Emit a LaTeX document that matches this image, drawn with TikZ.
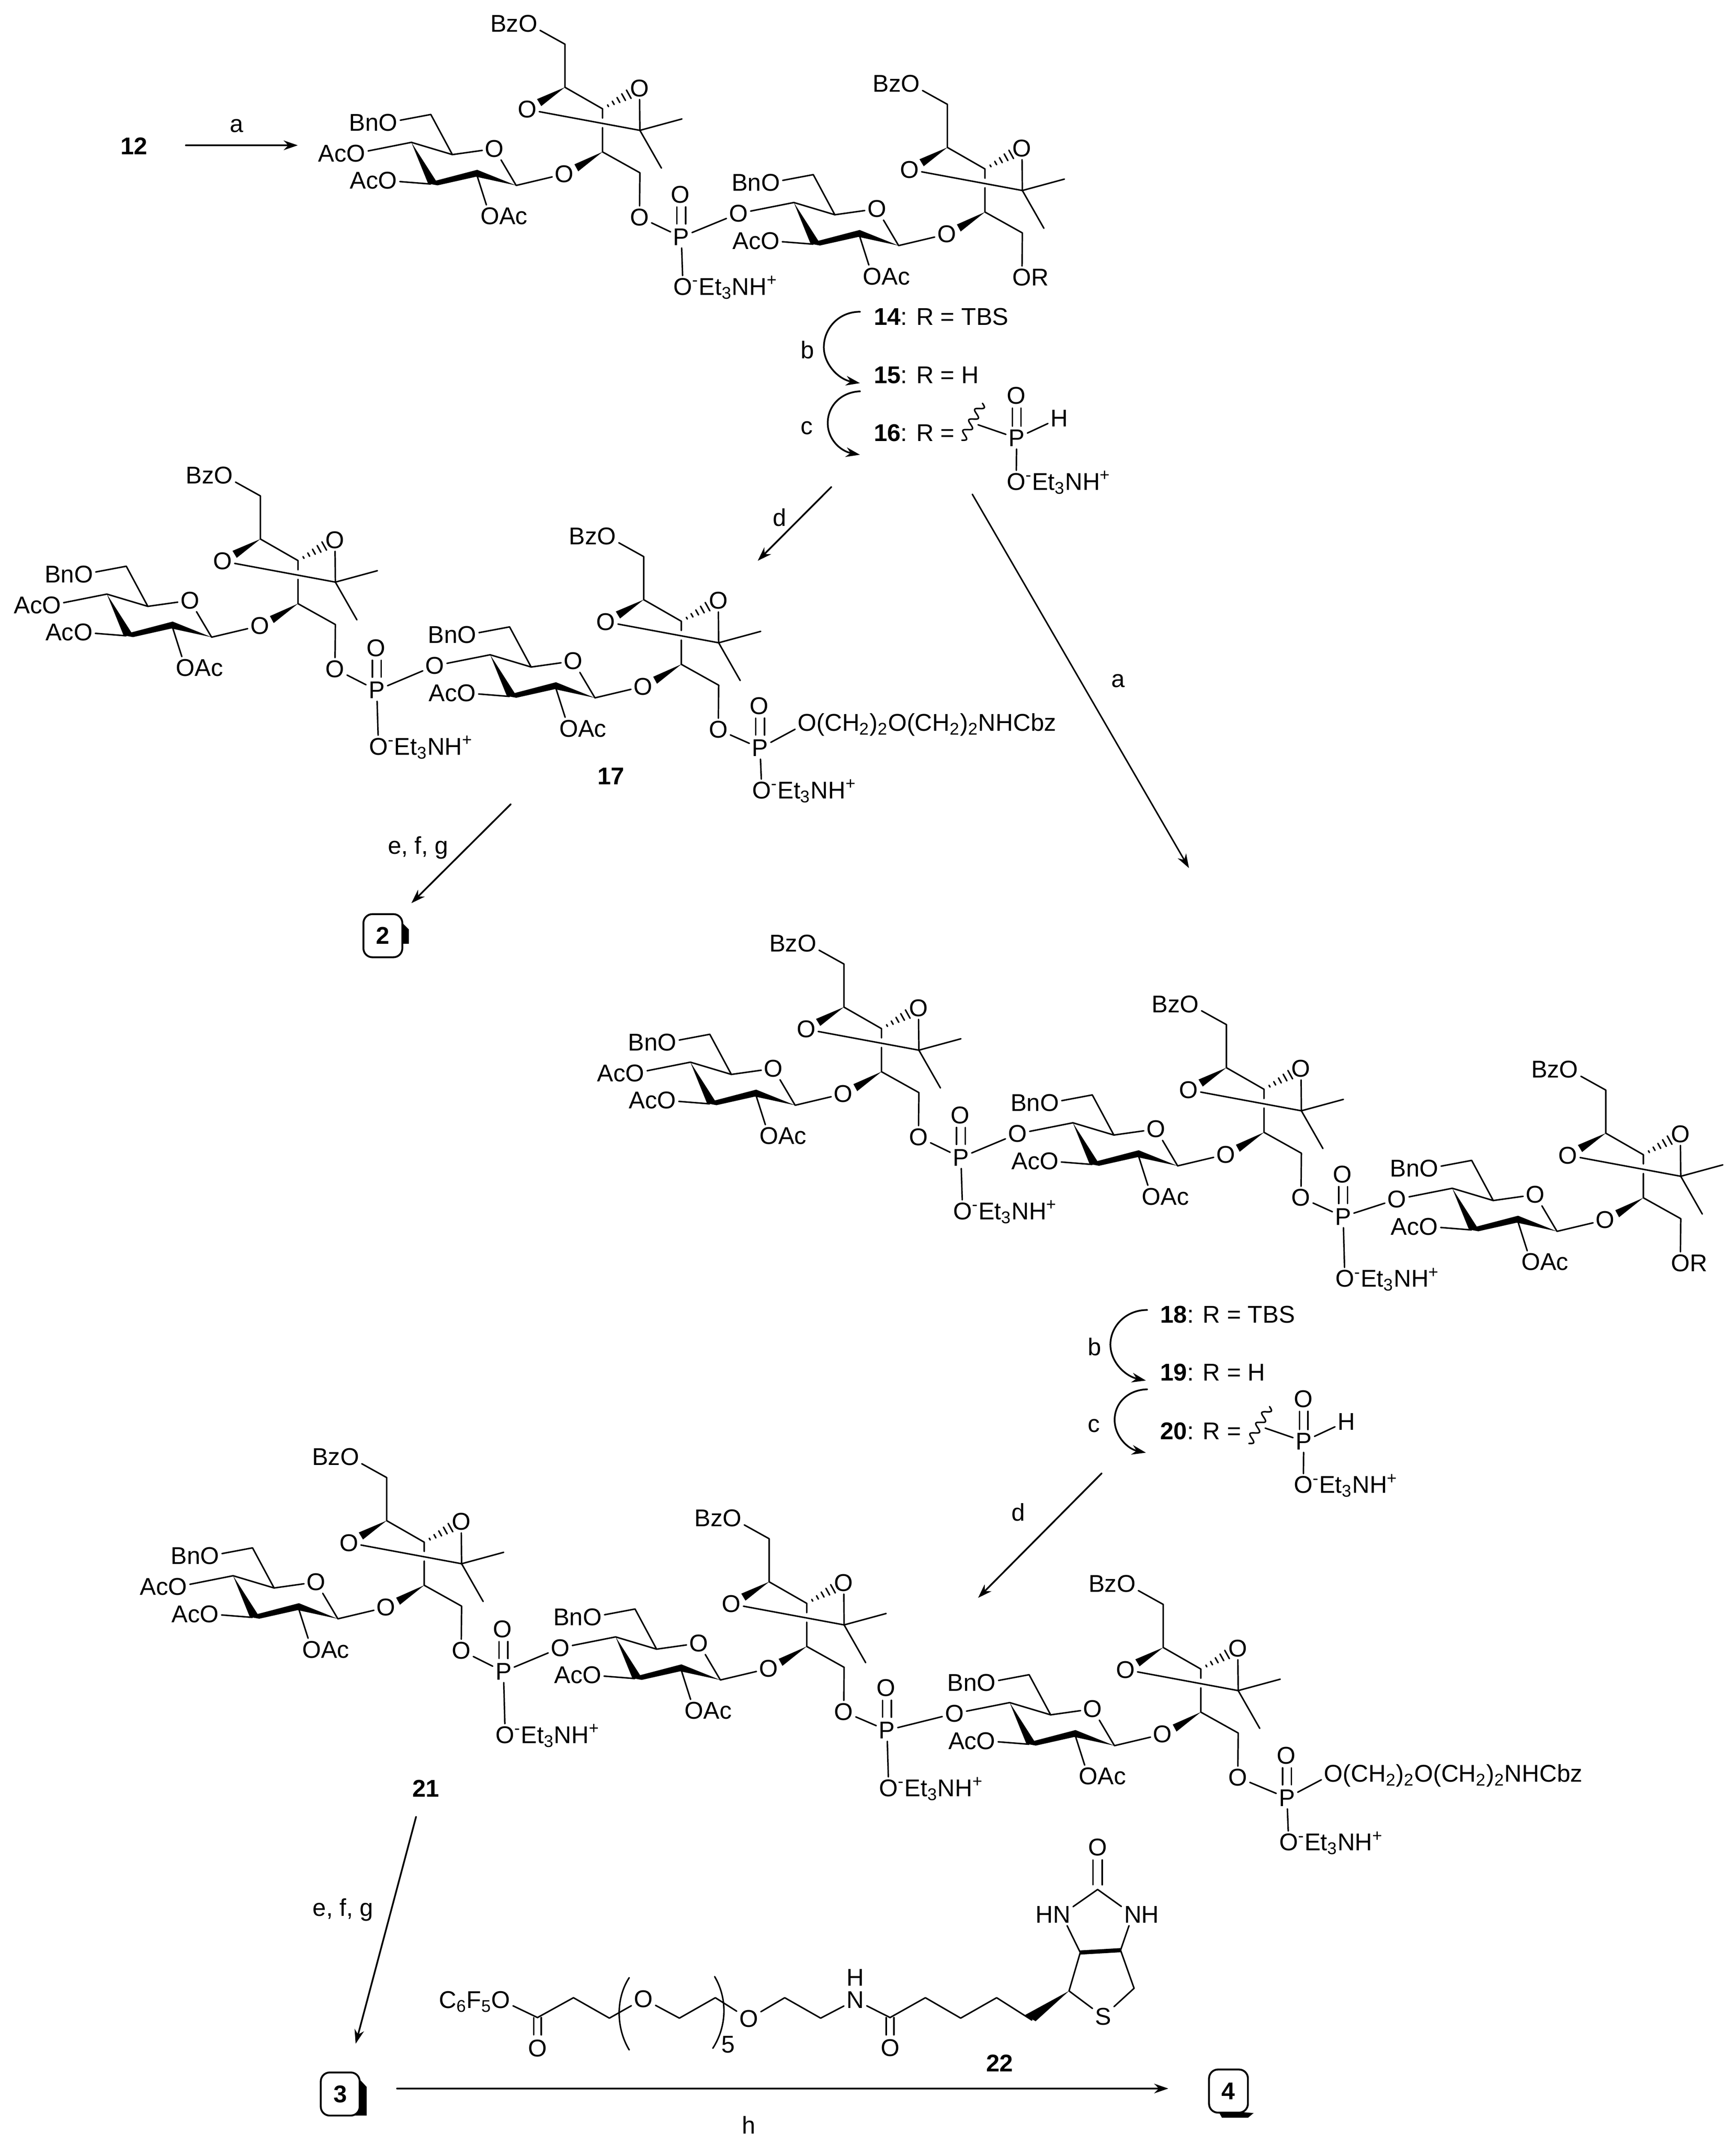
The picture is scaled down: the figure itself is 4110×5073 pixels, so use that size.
\documentclass[tikz,border=0pt]{standalone}
\usepackage{fontspec}
\setmainfont{Liberation Sans}
\usetikzlibrary{arrows.meta,positioning}
\newcommand{\saltpart}{\textsuperscript{-}Et\textsubscript{3}NH\textsuperscript{+}}
\newcommand{\peglink}{(CH\textsubscript{2})\textsubscript{2}O(CH\textsubscript{2})\textsubscript{2}NHCbz}
\tikzset{
	atom/.style={inner sep=1.8pt,outer sep=0pt},
	lefttag/.style={inner sep=0pt,outer sep=0pt,base left=-1.8pt of #1},
	righttag/.style={inner sep=0pt,outer sep=0pt,base right=-1.8pt of #1},
	rxn/.style={->,line width=1.15pt},
	cpdbox/.style={draw,fill=white,line width=1.25pt,rounded corners=6pt,minimum width=0.92cm,minimum height=1.02cm,inner sep=0pt,font=\fontsize{16.3}{19}\selectfont\bfseries},
	sugarunit/.pic={
		\coordinate (ch2) at (0,0);
		\coordinate (c1) at (0,102);
		\coordinate (c2) at (89,153);
		\coordinate (c3) at (177.5,204);
		\coordinate (c4) at (89,255);
		\coordinate (ch2b) at (177.5,304.4);
		\coordinate (me1) at (277,177);
		\coordinate (me2) at (228.5,293.4);
		\coordinate (r1) at (-115.5,334.4);
		\coordinate (r2) at (-210.5,303.4);
		\coordinate (r3) at (-318,331);
		\coordinate (r4) at (-363.5,232.4);
		\coordinate (r5) at (-266.5,261.4);
		\coordinate (ch2c) at (-317.5,166.4);
		\node[atom] (obz) at (-87.5,-48.6) {O};
		\node[lefttag=obz] (bz) {Bz};
		\node[atom] (oa) at (-89.5,154.4) {O};
		\node[atom] (ob) at (176.5,104.4) {O};
		\node[atom] (og) at (-1.5,307.4) {O};
		\node[atom] (o6) at (176.5,409.4) {O};
		\node[atom] (or) at (-167,247.4) {O};
		\node[atom] (obn) at (-418.5,185.4) {O};
		\node[lefttag=obn] (bn) {Bn};
		\node[atom] (o4) at (-494.5,258.4) {O};
		\node[atom] (o3) at (-419.5,323) {O};
		\node[lefttag=o3] (ac3) {Ac};
		\node[atom] (o2) at (-177.5,407) {O};
		\node[righttag=o2] (ac2) {Ac};
		\draw (obz)--(ch2)--(c1)--(c2)--(89,175);
		\draw (89,197.5)--(c4)--(ch2b)--(o6);
		\draw (oa)--(c3)--(me1);
		\draw (ob)--(c3)--(me2);
		\fill (c1)--(-66,130)--(-56,146.6)--cycle;
		\fill (c4)--(22.5,284.4)--(31.5,301)--cycle;
		\foreach \t in {.15,.29,.43,.57,.71}
		\draw ({89+79.7*\t},{153-62.6*\t})--({89+95.3*\t},{153-34.6*\t});
		\draw (og)--(r1)--(or)--(r5)--(r4)--(o4);
		\draw (r5)--(ch2c)--(obn);
		\draw (r3)--(o3);
		\draw (r2)--(o2);
		\fill (r4)--(-305.5,323)--(-207.7,297.4)--(r1)--(-210.5,313.8)--(-301.7,334.2)--(-324,330)--cycle;
	},
	phosphate/.pic={
		\node[atom] (p) at (0,0) {P};
		\node[atom] (od) at (-2,-100) {O};
		\node[atom] (om) at (4,#1) {O};
		\node[righttag=om] (st) {\saltpart};
		\draw (-10.5,-31)--(-10.5,-71);
		\draw (10.5,-31)--(10.5,-71);
		\draw (p)--(om);
	},
	hphosphonate/.pic={
		\node[atom] (p) at (0,0) {P};
		\node[atom] (od) at (-1,-100) {O};
		\node[atom] (hh) at (101,-47) {H};
		\node[atom] (om) at (-1,103) {O};
		\node[righttag=om] (st) {\saltpart};
		\coordinate (wv3) at (-91.3,-31.4);
		\draw (-10,-28)--(-10,-71);
		\draw (10,-28)--(10,-71);
		\draw (p)--(hh);
		\draw (p)--(om);
		\draw (wv3)--(p);
		\draw[samples=80,domain=0:1,smooth,variable=\x] plot ({-81-49*\x+7.8*sin(\x*1260)},{-82.4+87.4*\x+4.4*sin(\x*1260)});
	}
}
\begin{document}
\begin{tikzpicture}[x=0.01cm,y=-0.01cm,font=\fontsize{16.3}{19}\selectfont,line width=1pt,line join=round,line cap=round,>={Stealth[length=9.5pt,width=6.5pt]}]
	\useasboundingbox (0,0) rectangle (4110,5073);
	% repeating units
	\foreach \nm/\x/\y in {a1/1337.5/104.6,a2/2243/247,b1/616.5/1174,b2/1524/1317.6,c1/1998/2282,c2/2903.6/2425.5,c3/3801.8/2580.5,d1/915.4/3497.7,d2/1821/3642.5,d3/2754/3798}
	\pic (\nm) at (\x,\y) {sugarunit};
	\foreach \nm in {a1,b1,c1,d1}
	\node[lefttag=\nm o4] (\nm ac) {Ac};
	\foreach \nm in {a2,c3}
	\node[righttag=\nm o6] (\nm rr) {R};
	% phosphates between units
	\foreach \pn/\px/\py/\ql/\lo/\ro in {pa/1613/561/118/a1/a2,pb/892/1634/133/b1/b2,pc/2275/2740/127/c1/c2,pd/3180/2880/147/c2/c3,pe/1192/3957/150/d1/d2,pf/2100/4096/137/d2/d3}{
		\pic (\pn) at (\px,\py) {phosphate=\ql};
		\draw (\lo o6)--(\pn p)--(\ro o4);
	}
	% chain ends
	\pic (pg) at (1799.5,1771) {phosphate=100};
	\pic (ph) at (3047,4256) {phosphate=105};
	\node[atom] (tl1) at (1911,1711) {O};
	\node[righttag=tl1] (tl1t) {\peglink};
	\node[atom] (tl2) at (3157,4198) {O};
	\node[righttag=tl2] (tl2t) {\peglink};
	\draw (b2o6)--(pgp)--(tl1);
	\draw (d3o6)--(php)--(tl2);
	% R labels
	\node[anchor=base west,inner sep=0pt] (r14) at (2067,770) {\textbf{14}: R = TBS};
	\node[anchor=base west,inner sep=0pt] (r15) at (2067,908) {\textbf{15}: R = H};
	\node[anchor=base west,inner sep=0pt] (r16) at (2067,1045) {\textbf{16}: R =};
	\pic (hp1) at (2407,1037) {hphosphonate};
	\node[anchor=base west,inner sep=0pt] (r18) at (2745,3131.6) {\textbf{18}: R = TBS};
	\node[anchor=base west,inner sep=0pt] (r19) at (2745,3269) {\textbf{19}: R = H};
	\node[anchor=base west,inner sep=0pt] (r20) at (2745,3407) {\textbf{20}: R =};
	\pic (hp2) at (3086.7,3412) {hphosphonate};
	% compound numbers and reagents
	\node (n12) at (317,346) {\textbf{12}};
	\node (n17) at (1446.5,1837.5) {\textbf{17}};
	\node (n21) at (1008,4234) {\textbf{21}};
	\node (n22) at (2367,4884) {\textbf{22}};
	\node (la1) at (560,298) {a};
	\node (lb1) at (1912,828) {b};
	\node (lc1) at (1910,1013) {c};
	\node (ld1) at (1846,1225) {d};
	\node (la2) at (2647,1612) {a};
	\node (le1) at (990,2007) {e, f, g};
	\node (lb2) at (2591,3188) {b};
	\node (lc2) at (2590,3375) {c};
	\node (ld2) at (2411,3580) {d};
	\node (le2) at (812,4521) {e, f, g};
	\node (lh) at (1773,5030) {h};
	% arrows
	\coordinate (s1) at (440,344);
	\coordinate (e1) at (705,344);
	\coordinate (s2) at (1968,1153);
	\coordinate (e2) at (1794,1327.5);
	\coordinate (s3) at (2302,1170);
	\coordinate (e3) at (2815,2055);
	\coordinate (s4) at (1209,1904);
	\coordinate (e4) at (974,2138);
	\coordinate (s5) at (2608,3488);
	\coordinate (e5) at (2315.7,3782.5);
	\coordinate (s6) at (985,4301);
	\coordinate (e6) at (842,4838);
	\coordinate (s7) at (940,4944);
	\coordinate (e7) at (2766,4944);
	\draw[rxn] (s1)--(e1);
	\draw[rxn] (s2)--(e2);
	\draw[rxn,line width=1pt] (s3)--(e3);
	\draw[rxn] (s4)--(e4);
	\draw[rxn] (s5)--(e5);
	\draw[rxn] (s6)--(e6);
	\draw[rxn] (s7)--(e7);
	\draw[rxn] (2036,738) .. controls (1985,738) and (1950.5,778) .. (1950.5,822) .. controls (1950.5,862) and (1985,898) .. (2036,907);
	\draw[rxn] (2036,926.4) .. controls (1992,928) and (1959.7,960) .. (1959.7,1001.5) .. controls (1959.7,1040) and (1990,1068) .. (2036,1076.5);
	\draw[rxn] (2715.8,3101) .. controls (2665,3101) and (2629,3140) .. (2629,3182.7) .. controls (2629,3225) and (2665,3258) .. (2713,3268);
	\draw[rxn] (2715.8,3288.8) .. controls (2672,3290) and (2639,3320) .. (2639,3361) .. controls (2639,3400) and (2670,3430) .. (2713,3438.8);
	% end products
	\fill (940,2182)--(950,2182)--(968,2200)--(968,2234)--(940,2234)--cycle;
	\node[cpdbox] (cp2) at (906.5,2215) {2};
	\fill (840,4923)--(852,4923)--(868,4940)--(868,5008)--(800,5008)--cycle;
	\node[cpdbox] (cp3) at (805.5,4957) {3};
	\fill (2883,4995)--(2968,5002)--(2955,5013)--(2893,5013)--cycle;
	\node[cpdbox] (cp4) at (2908.5,4950) {4};
	% biotin linker
	\node[atom] (bo1) at (1186,4734.5) {O};
	\node[lefttag=bo1] (bf) {C\textsubscript{6}F\textsubscript{5}};
	\node[atom] (bo2) at (1272.6,4848.6) {O};
	\node[atom] (bo3) at (1523.4,4731.7) {O};
	\node[atom] (bo4) at (1772.8,4779) {O};
	\node[atom] (bn1) at (2025,4734.5) {N};
	\node[atom] (bh1) at (2025,4681.6) {H};
	\node[atom] (bo5) at (2107.3,4847.5) {O};
	\node[atom] (bs) at (2612,4773.5) {S};
	\node[atom] (bn2) at (2513.6,4532.4) {N};
	\node[lefttag=bn2] (bh2) {H};
	\node[atom] (bn3) at (2682,4532.4) {N};
	\node[righttag=bn3] (bh3) {H};
	\node[atom] (bo6) at (2598.7,4372.6) {O};
	\node[inner sep=0pt] (bfive) at (1724.4,4840.3) {5};
	\coordinate (k1) at (1272.6,4776);
	\coordinate (k2) at (1357.7,4729);
	\coordinate (k3) at (1442.8,4777.4);
	\coordinate (k4) at (1608.5,4777.4);
	\coordinate (k5) at (1693.6,4729);
	\coordinate (k6) at (1857.9,4729);
	\coordinate (k7) at (1943,4777.4);
	\coordinate (k8) at (2107.3,4776);
	\coordinate (k9) at (2190.9,4729);
	\coordinate (k10) at (2274.5,4777.4);
	\coordinate (k11) at (2359.6,4729);
	\coordinate (k12) at (2443,4782);
	\coordinate (k13) at (2531,4713);
	\coordinate (k14) at (2685,4706.7);
	\coordinate (k15) at (2653,4616.5);
	\coordinate (k16) at (2557.6,4622);
	\coordinate (k17) at (2598.7,4472.8);
	\draw (bo1)--(k1)--(k2)--(k3)--(bo3)--(k4)--(k5)--(bo4)--(k6)--(k7)--(bn1)--(k8)--(k9)--(k10)--(k11)--(k12);
	\draw (1263.6,4776)--(1263.6,4817);
	\draw (1281.6,4776)--(1281.6,4817);
	\draw (2098.3,4776)--(2098.3,4817);
	\draw (2116.3,4776)--(2116.3,4817);
	\draw (2587.7,4461.7)--(2587.7,4403);
	\draw (2609.7,4461.7)--(2609.7,4403);
	\fill (k13)--(2425.6,4770.7)--(2452,4784.6)--cycle;
	\draw (k13)--(bs)--(k14)--(k15)--(bn3)--(k17)--(bn2)--(k16)--(k13);
	\draw[line width=2.8pt,line cap=butt] (k16)--(k15);
	\draw (1489.7,4681.6) .. controls (1458,4730) and (1458,4800) .. (1489.7,4852.6);
	\draw (1692,4679) .. controls (1722,4730) and (1722,4795) .. (1687.7,4848.7);
\end{tikzpicture}
\end{document}
